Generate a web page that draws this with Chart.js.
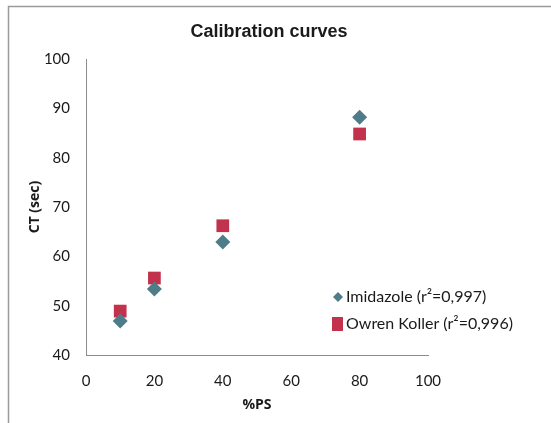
<!DOCTYPE html>
<html>
<head>
<meta charset="utf-8">
<script src="https://cdn.jsdelivr.net/npm/chart.js@4"></script>
<style>
  html, body { margin: 0; padding: 0; background: #ffffff; }
  #wrap { width: 551px; height: 423px; position: relative; }
</style>
</head>
<body>
<div id="wrap"><canvas id="chart"></canvas></div>
<script>
// values
const psPercent = [10, 20, 40, 80];
const imidazoleCT = [46.9, 53.4, 62.9, 88.2];
const owrenKollerCT = [48.9, 55.6, 66.2, 84.8];
const seriesLabels = ['Imidazole (r²=0,997)', 'Owren Koller (r²=0,996)'];
const chartTitle = 'Calibration curves';
const xTitle = '%PS';
const yTitle = 'CT (sec)';

const colors = {
  imidazole: '#4e7d89',
  owren: '#c3324d',
  axis: '#8c8c8c',
  text: '#1a1a1a',
  border: '#9a9a9a',
};

const tickFont = 'Lato, "Open Sans", sans-serif';

const toPoints = (xs, ys) => xs.map((x, i) => ({ x, y: ys[i] }));

// frame: grey line on top and left, like the cropped original
const frame = {
  id: 'frame',
  beforeDraw(chart) {
    const { ctx, width, height } = chart;
    ctx.save();
    ctx.fillStyle = '#ffffff';
    ctx.fillRect(0, 0, width, height);
    ctx.strokeStyle = colors.border;
    ctx.lineWidth = 1.5;
    ctx.beginPath();
    ctx.moveTo(8.5, height);
    ctx.lineTo(8.5, 6.5);
    ctx.lineTo(width, 6.5);
    ctx.stroke();
    ctx.restore();
  },
};

// title and legend drawn by hand so they sit where the original puts them
const annotations = {
  id: 'annotations',
  afterDraw(chart) {
    const { ctx } = chart;
    ctx.save();
    ctx.fillStyle = colors.text;
    ctx.font = 'bold 18px "Liberation Sans", Arial, sans-serif';
    ctx.textAlign = 'center';
    ctx.textBaseline = 'middle';
    ctx.fillText(chartTitle, 269, 32);

    ctx.font = '16px ' + tickFont;
    ctx.textAlign = 'left';
    const rows = [
      { y: 297, color: colors.imidazole, style: 'rectRot' },
      { y: 324, color: colors.owren, style: 'rect' },
    ];
    rows.forEach((row, i) => {
      ctx.fillStyle = row.color;
      ctx.beginPath();
      if (row.style === 'rect') {
        ctx.rect(332, row.y - 7, 11, 14);
      } else {
        ctx.moveTo(338, row.y - 5);
        ctx.lineTo(343, row.y);
        ctx.lineTo(338, row.y + 5);
        ctx.lineTo(333, row.y);
        ctx.closePath();
      }
      ctx.fill();
      ctx.fillStyle = colors.text;
      ctx.fillText(seriesLabels[i], 346, row.y);
    });
    ctx.restore();
  },
};

new Chart(document.getElementById('chart').getContext('2d'), {
  type: 'scatter',
  plugins: [frame, annotations],
  data: {
    datasets: [
      {
        label: seriesLabels[0],
        data: toPoints(psPercent, imidazoleCT),
        pointStyle: 'rectRot',
        pointRadius: 7.5,
        backgroundColor: colors.imidazole,
        borderColor: colors.imidazole,
        borderWidth: 0,
      },
      {
        label: seriesLabels[1],
        data: toPoints(psPercent, owrenKollerCT),
        pointStyle: 'rect',
        pointRadius: 9,
        backgroundColor: colors.owren,
        borderColor: colors.owren,
        borderWidth: 0,
      },
    ],
  },
  options: {
    responsive: true,
    maintainAspectRatio: false,
    animation: false,
    layout: { padding: { left: 0, top: 59, right: 123, bottom: 0 } },
    scales: {
      x: {
        type: 'linear',
        min: 0,
        max: 100,
        afterFit: (s) => { s.height = 68; },
        ticks: {
          stepSize: 20,
          padding: 17,
          color: colors.text,
          font: { family: tickFont, size: 15 },
        },
        grid: { display: false, drawTicks: false },
        border: { display: true, color: colors.axis, width: 1 },
        title: {
          display: true,
          text: xTitle,
          color: colors.text,
          padding: { top: 0, bottom: 10 },
          font: { family: '"Open Sans", sans-serif', size: 14, weight: 'bold' },
        },
      },
      y: {
        type: 'linear',
        min: 40,
        max: 100,
        afterFit: (s) => { s.width = 86; },
        ticks: {
          stepSize: 10,
          padding: 16,
          color: colors.text,
          font: { family: tickFont, size: 15 },
        },
        grid: { display: false, drawTicks: false },
        border: { display: true, color: colors.axis, width: 1 },
        title: {
          display: true,
          text: yTitle,
          color: colors.text,
          padding: { top: 27, bottom: 0 },
          font: { family: '"Open Sans", sans-serif', size: 14, weight: 'bold' },
        },
      },
    },
    plugins: {
      legend: { display: false },
      title: { display: false },
      tooltip: { enabled: false },
    },
  },
});
</script>
</body>
</html>
